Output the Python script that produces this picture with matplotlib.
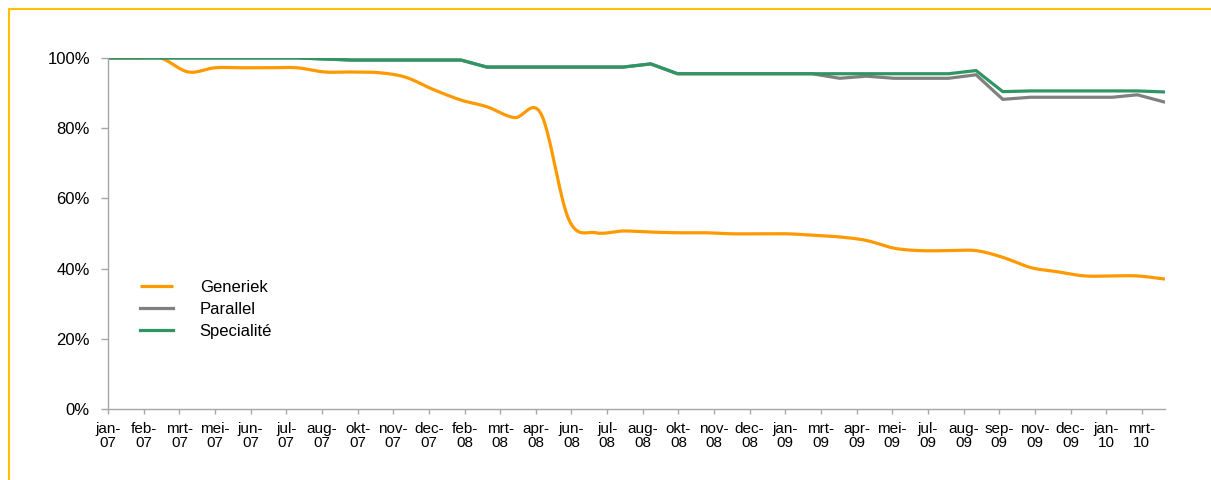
import matplotlib
matplotlib.use("Agg")
import matplotlib.pyplot as plt
import matplotlib.dates as mdates
from matplotlib.ticker import PercentFormatter
import numpy as np
import pandas as pd

plt.rcParams["font.family"] = ["Liberation Sans", "DejaVu Sans"]

# Maandelijkse aandelen (%) per type geneesmiddel, jan 2007 - apr 2010
maanden = pd.date_range("2007-01-01", periods=40, freq="MS")

generiek = [100, 100, 100, 96.0, 97.2, 97.2, 97.2, 97.2, 96.0, 96.0, 95.8, 94.5,
            91.0, 88.0, 86.1, 83.0, 84.0, 54.0, 50.2, 50.7, 50.4, 50.2, 50.2, 49.9,
            49.9, 49.9, 49.5, 49.0, 48.0, 45.8, 45.1, 45.1, 45.1, 43.2, 40.3, 39.1,
            37.9, 37.9, 37.9, 37.0]

parallel = [100, 100, 100, 100, 100, 100, 100, 100, 99.7, 99.4, 99.4, 99.4,
            99.4, 99.4, 97.4, 97.4, 97.4, 97.4, 97.4, 97.4, 98.3, 95.5, 95.5, 95.5,
            95.5, 95.5, 95.5, 94.2, 94.8, 94.2, 94.2, 94.2, 95.2, 88.2, 88.8, 88.8,
            88.8, 88.8, 89.5, 87.4]

specialite = [100, 100, 100, 100, 100, 100, 100, 100, 99.7, 99.4, 99.4, 99.4,
              99.4, 99.4, 97.4, 97.4, 97.4, 97.4, 97.4, 97.4, 98.3, 95.5, 95.5, 95.5,
              95.5, 95.5, 95.5, 95.5, 95.5, 95.5, 95.5, 95.5, 96.4, 90.4, 90.6, 90.6,
              90.6, 90.6, 90.6, 90.3]

maand_namen = ["jan", "feb", "mrt", "apr", "mei", "jun",
               "jul", "aug", "sep", "okt", "nov", "dec"]


def vloeiend(x, y, n=24):
    # Catmull-Rom curve door de punten (zoals een "vloeiende lijn" in Excel)
    x = np.asarray(x, float)
    y = np.asarray(y, float)
    px, py = [], []
    for i in range(len(x) - 1):
        x0, x1 = x[i], x[i + 1]
        y0, y1 = y[i], y[i + 1]
        xm = x[i - 1] if i > 0 else x0
        ym = y[i - 1] if i > 0 else y0
        xp = x[i + 2] if i + 2 < len(x) else x1
        yp = y[i + 2] if i + 2 < len(y) else y1
        t = np.linspace(0, 1, n, endpoint=False)
        h00 = 2 * t**3 - 3 * t**2 + 1
        h10 = t**3 - 2 * t**2 + t
        h01 = -2 * t**3 + 3 * t**2
        h11 = t**3 - t**2
        px.append(h00 * x0 + h10 * (x1 - xm) / 2 + h01 * x1 + h11 * (xp - x0) / 2)
        py.append(h00 * y0 + h10 * (y1 - ym) / 2 + h01 * y1 + h11 * (yp - y0) / 2)
    px.append([x[-1]])
    py.append([y[-1]])
    return np.concatenate(px), np.concatenate(py)


fig = plt.figure(figsize=(12.11, 4.80), dpi=100)
ax = fig.add_axes([0.0892, 0.148, 0.8728, 0.7313])

xnum = mdates.date2num(maanden)
gx, gy = vloeiend(xnum, generiek)
ax.plot(gx, gy, color="#FF9900", linewidth=2.3, label="Generiek",
        solid_capstyle="butt")
ax.plot(xnum, parallel, color="#808080", linewidth=2.3, label="Parallel")
ax.plot(xnum, specialite, color="#2f9563", linewidth=2.3, label="Specialité")

ax.set_ylim(0, 100)
ax.set_xlim(mdates.date2num(pd.Timestamp("2007-01-01")),
            mdates.date2num(pd.Timestamp("2010-04-01")))
ax.yaxis.set_major_formatter(PercentFormatter(decimals=0))
ax.set_yticks(np.arange(0, 101, 20))

# as-verdeling om de 40 dagen
ticks = pd.Timestamp("2007-01-01") + pd.to_timedelta(np.arange(0, 30) * 40, unit="D")
ax.set_xticks(mdates.date2num(ticks))
ax.set_xticklabels([f"{maand_namen[t.month - 1]}-\n{t.strftime('%y')}" for t in ticks])

for s in ["top", "right"]:
    ax.spines[s].set_visible(False)
for s in ["left", "bottom"]:
    ax.spines[s].set_color("#a6a6a6")
    ax.spines[s].set_linewidth(1.0)
ax.tick_params(axis="y", direction="out", length=5, width=1, color="#a6a6a6",
               labelsize=12, pad=8)
ax.tick_params(axis="x", direction="out", length=3.5, width=1, color="#a6a6a6",
               labelsize=11, pad=6)
for lbl in ax.get_xticklabels():
    lbl.set_horizontalalignment("center")
    lbl.set_linespacing(1.0)

ax.legend(loc="upper left", bbox_to_anchor=(0.1085, 0.435),
          bbox_transform=fig.transFigure, frameon=False, fontsize=12,
          handlelength=2.0, handletextpad=1.6, labelspacing=0.43, borderpad=0)

# gele kader rond de grafiek
fig.add_artist(plt.Line2D([0.0074, 0.0074], [0, 0.981], color="#FFC000",
                          linewidth=1.5, transform=fig.transFigure))
fig.add_artist(plt.Line2D([0.0074, 1], [0.981, 0.981], color="#FFC000",
                          linewidth=1.5, transform=fig.transFigure))

fig.savefig("out.png", dpi=100)
